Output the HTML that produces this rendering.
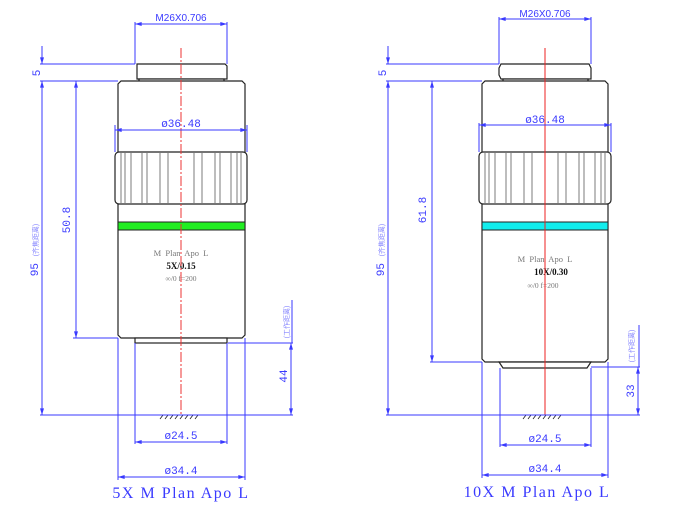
<!DOCTYPE html>
<html><head><meta charset="utf-8"><style>
html,body{margin:0;padding:0;background:#fff;}
svg{display:block;}
.b{stroke:#3a3aff;stroke-width:1;fill:none;}
.k{stroke:#222;stroke-width:1.2;fill:#fff;}
.kl{stroke:#444;stroke-width:0.7;fill:none;}
.r{stroke:#e33;stroke-width:1;stroke-dasharray:10,2,2,2;fill:none;}
.t{fill:#3a3aff;font-family:"Liberation Sans",sans-serif;font-size:10px;}
.ts{fill:#3a3aff;font-family:"Liberation Mono",monospace;font-size:11px;}
.ttl{fill:#3a3aff;font-family:"Liberation Serif",serif;font-size:16px;letter-spacing:1.5px;}
.cn{fill:#8888ff;font-family:"Liberation Sans","Noto Sans CJK SC",sans-serif;font-size:7px;}
.g1{fill:#777;font-family:"Liberation Serif",serif;font-size:8.5px;}
.g2{fill:#111;font-family:"Liberation Serif",serif;font-size:9px;font-weight:bold;}
.g3{fill:#777;font-family:"Liberation Serif",serif;font-size:7.5px;}
</style></head><body>
<svg width="680" height="508" viewBox="0 0 680 508" xmlns="http://www.w3.org/2000/svg">
<defs>
<marker id="a" viewBox="0 0 10 6" refX="10" refY="3" markerWidth="8" markerHeight="4" orient="auto-start-reverse" markerUnits="userSpaceOnUse"><path d="M0,0L10,3L0,6z" fill="#3a3aff"/></marker>
</defs>

<!-- ===== LEFT ===== -->
<g>
<path class="k" d="M137,79 L137,64 L225,64 L227,66 L227,79 Z"/>
<rect class="k" x="139" y="79" width="85" height="3"/>
<path class="k" d="M121,81 L242,81 L245,84 L245,335 L242,338 L121,338 L118,335 L118,84 Z"/>
<rect class="k" x="135" y="338" width="92" height="5"/>
<rect x="118" y="222" width="127" height="8" fill="#22ee22" stroke="#222" stroke-width="1"/>
<rect class="k" x="115" y="152" width="132" height="52" rx="4"/>
<g class="kl">
<path d="M168,153V203M160,153V203M147,153V203M142,153V203M131,153V203M125,153V203M121,153V203M194,153V203M202,153V203M215,153V203M220,153V203M231,153V203M237,153V203M241,153V203"/>
</g>
<text class="g1" x="181" y="256" text-anchor="middle" xml:space="preserve">M  Plan  Apo  L</text>
<text class="g2" x="181" y="269" text-anchor="middle">5X/0.15</text>
<text class="g3" x="181" y="281" text-anchor="middle">∞/0 f=200</text>
<line class="r" x1="181" y1="48" x2="181" y2="415"/>
<line x1="158" y1="415" x2="200" y2="415" stroke="#222" stroke-width="1"/>
<path d="M160,419L163,415M165,419L168,415M170,419L173,415M175,419L178,415M180,419L183,415M185,419L188,415M190,419L193,415M195,419L198,415" stroke="#222" stroke-width="0.8"/>
<line class="b" x1="135" y1="22" x2="135" y2="64"/>
<line class="b" x1="227" y1="22" x2="227" y2="64"/>
<line class="b" x1="135" y1="24" x2="227" y2="24" marker-start="url(#a)" marker-end="url(#a)"/>
<text class="t" x="181" y="21" text-anchor="middle">M26X0.706</text>
<line class="b" x1="40" y1="64" x2="135" y2="64"/>
<line class="b" x1="40" y1="81" x2="118" y2="81"/>
<line class="b" x1="42" y1="46" x2="42" y2="64" marker-end="url(#a)"/>
<text class="ts" transform="translate(40,73) rotate(-90)" text-anchor="middle">5</text>
<line class="b" x1="42" y1="81" x2="42" y2="415" marker-start="url(#a)" marker-end="url(#a)"/>
<text class="ts" transform="translate(38,250) rotate(-90)" text-anchor="middle">95 <tspan class="cn" style="font-size:7px">(齐焦距离)</tspan></text>
<line class="b" x1="40" y1="415" x2="293" y2="415"/>
<line class="b" x1="76" y1="81" x2="76" y2="338" marker-start="url(#a)" marker-end="url(#a)"/>
<line class="b" x1="73" y1="338" x2="118" y2="338"/>
<text class="ts" transform="translate(70,220) rotate(-90)" text-anchor="middle">50.8</text>
<line class="b" x1="115" y1="125" x2="115" y2="152"/>
<line class="b" x1="247" y1="125" x2="247" y2="152"/>
<line class="b" x1="115" y1="130" x2="247" y2="130" marker-start="url(#a)" marker-end="url(#a)"/>
<text class="ts" x="181" y="127" text-anchor="middle">ø36.48</text>
<line class="b" x1="228" y1="343" x2="293" y2="343"/>
<line class="b" x1="292" y1="300" x2="292" y2="343"/>
<line class="b" x1="291" y1="343" x2="291" y2="415" marker-start="url(#a)" marker-end="url(#a)"/>
<text class="cn" transform="translate(289,322) rotate(-90)" text-anchor="middle">(工作距离)</text>
<text class="ts" transform="translate(287,376) rotate(-90)" text-anchor="middle">44</text>
<line class="b" x1="135" y1="343" x2="135" y2="444"/>
<line class="b" x1="227" y1="343" x2="227" y2="444"/>
<line class="b" x1="135" y1="442" x2="227" y2="442" marker-start="url(#a)" marker-end="url(#a)"/>
<text class="ts" x="181" y="439" text-anchor="middle">ø24.5</text>
<line class="b" x1="118" y1="338" x2="118" y2="480"/>
<line class="b" x1="245" y1="338" x2="245" y2="480"/>
<line class="b" x1="118" y1="477" x2="245" y2="477" marker-start="url(#a)" marker-end="url(#a)"/>
<text class="ts" x="181" y="474" text-anchor="middle">ø34.4</text>
<text class="ttl" x="181" y="498" text-anchor="middle">5X M Plan Apo L</text>
</g>

<!-- ===== RIGHT ===== -->
<g>
<path class="k" d="M501,79 L499,75 L499,68 L501,64 L589,64 L591,68 L591,79 Z"/>
<rect class="k" x="503" y="79" width="85" height="3"/>
<path class="k" d="M485,81 L605,81 L608,84 L608,359 L605,362 L485,362 L482,359 L482,84 Z"/>
<path class="k" d="M499,362 L591,362 L587,368 L503,368 Z"/>
<rect x="482" y="222" width="126" height="8" fill="#11eeee" stroke="#222" stroke-width="1"/>
<rect class="k" x="479" y="152" width="132" height="52" rx="4"/>
<g class="kl">
<path d="M532,153V203M524,153V203M511,153V203M506,153V203M495,153V203M489,153V203M485,153V203M558,153V203M566,153V203M579,153V203M584,153V203M595,153V203M601,153V203M605,153V203"/>
</g>
<text class="g1" x="545" y="262" text-anchor="middle" xml:space="preserve">M  Plan  Apo  L</text>
<text class="g2" x="551" y="275" text-anchor="middle">10X/0.30</text>
<text class="g3" x="543" y="288" text-anchor="middle">∞/0 f=200</text>
<line x1="545" y1="48" x2="545" y2="415" stroke="#e22" stroke-width="1"/>
<line x1="521" y1="415" x2="563" y2="415" stroke="#222" stroke-width="1"/>
<path d="M523,419L526,415M528,419L531,415M533,419L536,415M538,419L541,415M543,419L546,415M548,419L551,415M553,419L556,415M558,419L561,415" stroke="#222" stroke-width="0.8"/>
<line class="b" x1="499" y1="17" x2="499" y2="64"/>
<line class="b" x1="591" y1="17" x2="591" y2="64"/>
<line class="b" x1="499" y1="19" x2="591" y2="19" marker-start="url(#a)" marker-end="url(#a)"/>
<text class="t" x="545" y="17" text-anchor="middle">M26X0.706</text>
<line class="b" x1="386" y1="64" x2="499" y2="64"/>
<line class="b" x1="386" y1="81" x2="482" y2="81"/>
<line class="b" x1="388" y1="46" x2="388" y2="64" marker-end="url(#a)"/>
<text class="ts" transform="translate(386,73) rotate(-90)" text-anchor="middle">5</text>
<line class="b" x1="388" y1="81" x2="388" y2="415" marker-start="url(#a)" marker-end="url(#a)"/>
<text class="ts" transform="translate(384,250) rotate(-90)" text-anchor="middle">95 <tspan class="cn" style="font-size:7px">(齐焦距离)</tspan></text>
<line class="b" x1="386" y1="415" x2="640" y2="415"/>
<line class="b" x1="432" y1="81" x2="432" y2="362" marker-start="url(#a)" marker-end="url(#a)"/>
<line class="b" x1="430" y1="362" x2="482" y2="362"/>
<text class="ts" transform="translate(426,210) rotate(-90)" text-anchor="middle">61.8</text>
<line class="b" x1="479" y1="123" x2="479" y2="152"/>
<line class="b" x1="611" y1="123" x2="611" y2="152"/>
<line class="b" x1="479" y1="125" x2="611" y2="125" marker-start="url(#a)" marker-end="url(#a)"/>
<text class="ts" x="545" y="123" text-anchor="middle">ø36.48</text>
<line class="b" x1="591" y1="367" x2="640" y2="367"/>
<line class="b" x1="639" y1="325" x2="639" y2="367"/>
<line class="b" x1="638" y1="367" x2="638" y2="415" marker-start="url(#a)" marker-end="url(#a)"/>
<text class="cn" transform="translate(634,346) rotate(-90)" text-anchor="middle">(工作距离)</text>
<text class="ts" transform="translate(634,391) rotate(-90)" text-anchor="middle">33</text>
<line class="b" x1="500" y1="368" x2="500" y2="447"/>
<line class="b" x1="591" y1="368" x2="591" y2="447"/>
<line class="b" x1="500" y1="445" x2="591" y2="445" marker-start="url(#a)" marker-end="url(#a)"/>
<text class="ts" x="545" y="442" text-anchor="middle">ø24.5</text>
<line class="b" x1="482" y1="362" x2="482" y2="478"/>
<line class="b" x1="608" y1="362" x2="608" y2="478"/>
<line class="b" x1="482" y1="475" x2="608" y2="475" marker-start="url(#a)" marker-end="url(#a)"/>
<text class="ts" x="545" y="472" text-anchor="middle">ø34.4</text>
<text class="ttl" x="537" y="497" text-anchor="middle">10X M Plan Apo L</text>
</g>
</svg>
</body></html>
